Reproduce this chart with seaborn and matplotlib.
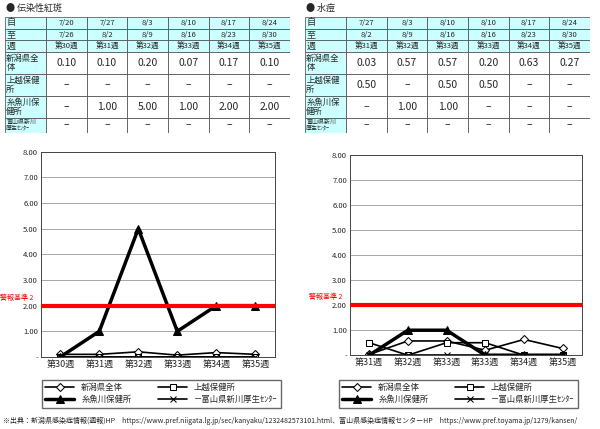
import numpy as np
import pandas as pd
import matplotlib.pyplot as plt
import seaborn as sns

sns.set_style("white")
plt.rcParams['font.family'] = ['Noto Sans CJK JP', 'DejaVu Sans']

# 伝染性紅斑
l_from = ['7/20', '7/27', '8/3', '8/10', '8/17', '8/24']
l_to = ['7/26', '8/2', '8/9', '8/16', '8/23', '8/30']
l_weeks = ['第30週', '第31週', '第32週', '第33週', '第34週', '第35週']
l_niigata = [0.10, 0.10, 0.20, 0.07, 0.17, 0.10]
l_joetsu = [None, None, None, None, None, None]
l_itoigawa = [None, 1.00, 5.00, 1.00, 2.00, 2.00]
l_toyama = [None, None, None, None, None, None]

# 水痘
r_from = ['7/27', '8/3', '8/10', '8/10', '8/17', '8/24']
r_to = ['8/2', '8/9', '8/16', '8/16', '8/23', '8/30']
r_weeks = ['第31週', '第32週', '第33週', '第33週', '第34週', '第35週']
r_niigata = [0.03, 0.57, 0.57, 0.20, 0.63, 0.27]
r_joetsu = [0.50, None, 0.50, 0.50, None, None]
r_itoigawa = [None, 1.00, 1.00, None, None, None]
r_toyama = [None, None, None, None, None, None]

names = ['新潟県全体', '上越保健所', '糸魚川保健所', '富山県新川厚生センター']
row_labels = ['新潟県全\n体', '上越保健\n所', '糸魚川保\n健所', '富山県新川\n厚生ｾﾝﾀｰ']
alert = 2.0

fig = plt.figure(figsize=(6, 4.29), dpi=100)


def fmt(v):
    return '–' if v is None else f'{v:.2f}'


def draw_table(x0, title, d_from, d_to, weeks, series):
    fig.text(x0 + 0.002, 0.992, '● ' + title, fontsize=6.5, va='top')
    ax = fig.add_axes([x0, 0.69, 0.475, 0.27])
    ax.axis('off')
    cells = [['自'] + d_from, ['至'] + d_to, ['週'] + weeks]
    for lab, s in zip(row_labels, series):
        cells.append([lab] + [fmt(v) for v in s])
    heights = [0.1, 0.1, 0.1, 0.19, 0.19, 0.19, 0.13]
    widths = [0.145] + [0.1425] * 6
    y = 1.0
    for r, row in enumerate(cells):
        h = heights[r]
        y -= h
        x = 0
        for c, txt in enumerate(row):
            w = widths[c]
            fc = '#ccffff' if (r < 3 or c == 0) else 'white'
            ax.add_patch(plt.Rectangle((x, y), w, h, fc=fc, ec='#444444', lw=0.5))
            if c == 0:
                fs = 4.3 if r == 6 else (6 if r >= 3 else 6.5)
                ax.text(x + 0.005, y + h / 2, txt, fontsize=fs, va='center', ha='left', linespacing=1.0)
            else:
                fs = 5.5 if r < 3 else 7.5
                ax.text(x + w / 2, y + h / 2, txt, fontsize=fs, va='center', ha='center')
            x += w
    ax.set_xlim(0, 1)
    ax.set_ylim(0, 1)


def draw_chart(rect, weeks, series, leg_rect):
    ax = fig.add_axes(rect)
    xs = np.arange(len(weeks))
    styles = [dict(marker='D', ms=4, lw=1.2, mfc='white'),
              dict(marker='s', ms=5, lw=1.2, mfc='white'),
              dict(marker='^', ms=6, lw=2.5, mfc='black'),
              dict(marker='x', ms=5, lw=1.2)]
    for name, s, st in zip(names, series, styles):
        vals = [0 if v is None else v for v in s]
        df = pd.DataFrame({'x': xs, 'y': vals})
        sns.lineplot(data=df, x='x', y='y', ax=ax, color='black', mec='black', label=name, **st)
    ax.axhline(alert, color='red', lw=3, zorder=3)
    ax.text(-0.03, alert + 0.15, '警報基準 2', color='red', fontsize=5, ha='right', va='bottom',
            transform=ax.get_yaxis_transform())
    ax.set_ylim(0, 8)
    ax.set_xlim(-0.5, len(weeks) - 0.5)
    ax.set_yticks(range(0, 9))
    ax.set_yticklabels(['-'] + [f'{i}.00' for i in range(1, 9)], fontsize=5.5)
    ax.set_xticks(xs)
    ax.set_xticklabels(weeks, fontsize=6.5)
    ax.grid(axis='y', color='#999999', lw=0.6)
    for sp in ax.spines.values():
        sp.set_color('#444444')
        sp.set_linewidth(0.7)
    ax.tick_params(length=0, pad=2)
    ax.set_xlabel('')
    ax.set_ylabel('')
    h, l = ax.get_legend_handles_labels()
    ax.get_legend().remove()
    l[3] = '－富山県新川厚生ｾﾝﾀｰ'
    order = [0, 2, 1, 3]
    fig.legend([h[i] for i in order], [l[i] for i in order], loc='center',
               bbox_to_anchor=leg_rect, ncol=2, fontsize=6,
               frameon=True, fancybox=False, edgecolor='#444444', handlelength=3.5,
               columnspacing=4, borderpad=0.4, labelspacing=0.4, mode='expand')


draw_table(0.008, '伝染性紅斑', l_from, l_to, l_weeks, [l_niigata, l_joetsu, l_itoigawa, l_toyama])
draw_table(0.508, '水痘', r_from, r_to, r_weeks, [r_niigata, r_joetsu, r_itoigawa, r_toyama])

draw_chart([0.068, 0.168, 0.39, 0.478], l_weeks, [l_niigata, l_joetsu, l_itoigawa, l_toyama],
           (0.063, 0.03, 0.412, 0.105))
draw_chart([0.583, 0.172, 0.387, 0.466], r_weeks, [r_niigata, r_joetsu, r_itoigawa, r_toyama],
           (0.558, 0.03, 0.412, 0.105))

fig.text(0.005, 0.01, '※出典：新潟県感染症情報(週報)HP　https://www.pref.niigata.lg.jp/sec/kanyaku/1232482573101.html、富山県感染症情報センターHP　https://www.pref.toyama.jp/1279/kansen/',
         fontsize=5, va='bottom')

fig.savefig('out.png', dpi=100)
